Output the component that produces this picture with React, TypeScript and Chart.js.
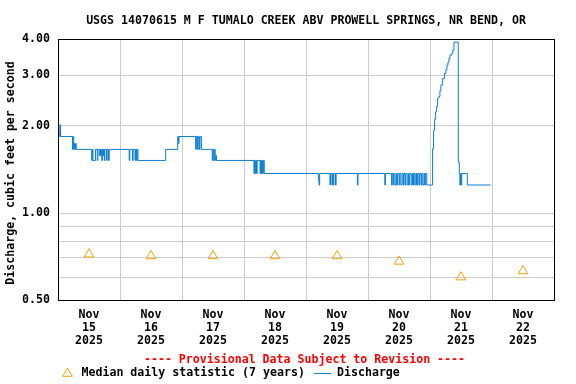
import React, { useEffect, useRef } from 'react';
import { Chart, registerables } from 'chart.js';

Chart.register(...registerables);

const FONT = '"DejaVu Sans Mono", "Liberation Mono", monospace';
const FS = 11.6;

const chartTitle = 'USGS 14070615 M F TUMALO CREEK ABV PROWELL SPRINGS, NR BEND, OR';
const yAxisTitle = 'Discharge, cubic feet per second ';
const provisionalText = '---- Provisional Data Subject to Revision ----';
const medianLabel = 'Median daily statistic (7 years)';
const dischargeLabel = 'Discharge';

const dayMonth = 'Nov';
const dayNumbers = ['15', '16', '17', '18', '19', '20', '21', '22'];
const dayYear = '2025';

const yTickValues = [0.5, 0.6, 0.7, 0.8, 0.9, 1, 2, 3, 4];
const yTickLabels = ['0.50', '', '', '', '', '1.00', '2.00', '3.00', '4.00'];

// hours since Nov 15 2025 00:00 (daily medians plotted at noon)
const medianHours = [12, 36, 60, 84, 108, 132, 156, 180];
const medianCfs = [0.72, 0.71, 0.71, 0.71, 0.71, 0.68, 0.6, 0.63];

// hours since Nov 15 2025 00:00 at which each reading begins
const dischargeHours = [
  0, 0.39, 0.73, 0.97, 5.6, 5.84, 6.09, 6.33, 6.57, 6.82, 7.06,
  13.05, 13.29, 13.54, 14.51, 15.19, 15.44, 15.97, 16.21, 16.46, 16.7, 16.94, 17.19, 17.43, 17.67, 17.92, 18.16, 18.8, 19.04, 19.57, 19.82,
  27.56, 27.8, 28.83, 29.07, 29.8, 30.04, 30.38, 30.63, 30.97,
  41.68, 46.35, 46.6, 46.84,
  53.27, 53.56, 54.05, 54.29, 54.73, 54.97, 55.51,
  59.7, 59.94, 60.28, 60.52, 60.86, 61.11, 61.35,
  75.86, 76.1, 76.35, 76.59, 76.84, 77.08, 78.2, 78.44, 78.78, 79.03, 79.27, 79.51, 79.85,
  100.79, 101.03, 101.28, 105.27, 105.51, 106.05, 106.29, 106.54, 106.78, 107.41, 107.66,
  115.89, 116.13, 126.5, 126.74,
  129.13, 129.37, 129.81, 130.06, 130.49, 130.98, 131.22, 131.47, 132.05, 132.29, 132.73, 133.22, 133.71, 133.95, 134.39, 134.63,
  135.17, 135.65, 135.9, 136.14, 136.73, 137.21, 137.6, 137.85, 138.29, 138.77, 139.01, 139.26, 139.74, 139.99, 140.52, 140.77,
  141.21, 141.69, 141.98, 142.23, 142.76,
  145.0, 145.39, 145.78, 146.17, 146.56, 146.95, 147.44, 147.83, 148.22, 148.9, 149.58, 150.17, 150.56, 150.95, 151.33, 151.72,
  152.41, 152.8, 153.28,
  154.94, 155.33, 155.57, 155.81, 156.06, 156.3, 158.44, 167.5,
];
const dischargeCfs = [
  1.92, 1.84, 2.02, 1.84, 1.66, 1.84, 1.66, 1.74, 1.66, 1.74, 1.66,
  1.52, 1.66, 1.52, 1.66, 1.52, 1.66, 1.58, 1.66, 1.58, 1.66, 1.52, 1.66, 1.58, 1.66, 1.52, 1.66, 1.52, 1.66, 1.52, 1.66,
  1.52, 1.66, 1.52, 1.66, 1.52, 1.66, 1.52, 1.66, 1.52,
  1.66, 1.84, 1.74, 1.84,
  1.66, 1.84, 1.66, 1.84, 1.66, 1.84, 1.66,
  1.52, 1.66, 1.52, 1.66, 1.52, 1.58, 1.52,
  1.37, 1.52, 1.37, 1.52, 1.37, 1.52, 1.37, 1.52, 1.37, 1.52, 1.37, 1.52, 1.37,
  1.3, 1.25, 1.37, 1.25, 1.37, 1.25, 1.37, 1.25, 1.37, 1.25, 1.37,
  1.25, 1.37, 1.25, 1.37,
  1.25, 1.37, 1.25, 1.37, 1.25, 1.37, 1.25, 1.37, 1.25, 1.37, 1.25, 1.37, 1.25, 1.37, 1.25, 1.37,
  1.25, 1.37, 1.25, 1.37, 1.25, 1.37, 1.25, 1.37, 1.25, 1.37, 1.25, 1.37, 1.25, 1.37, 1.25, 1.37,
  1.25, 1.37, 1.25, 1.37, 1.25,
  1.67, 1.93, 2.11, 2.24, 2.33, 2.5, 2.53, 2.65, 2.77, 2.92, 3.04, 3.14, 3.25, 3.33, 3.43, 3.52,
  3.57, 3.66, 3.9,
  1.5, 1.37, 1.25, 1.37, 1.25, 1.37, 1.25, 1.25,
];

const xMin = 0;
const xMax = 192;

const GRID = '#cccccc';
const LINE_BLUE = '#0a7dd2';
const ORANGE = '#f9a000';

export default function App() {
  const ref = useRef<HTMLCanvasElement>(null);

  useEffect(() => {
    const canvas = ref.current;
    if (!canvas) return;

    const decor = {
      id: 'usgsDecor',
      afterDatasetsDraw(chart: any) {
        const { ctx, chartArea: a } = chart;
        ctx.save();
        ctx.strokeStyle = '#000';
        ctx.lineWidth = 1;
        ctx.strokeRect(a.left + 0.5, a.top + 0.5, a.right - a.left, a.bottom - a.top);
        ctx.restore();
      },
      afterDraw(chart: any) {
        const { ctx, chartArea: a } = chart;
        ctx.save();
        ctx.font = `bold ${FS}px ${FONT}`;
        ctx.textBaseline = 'middle';
        ctx.textAlign = 'center';
        ctx.fillStyle = '#000';
        ctx.fillText(chartTitle, (a.left + a.right) / 2, 21);
        ctx.fillStyle = '#ff0000';
        ctx.fillText(provisionalText, 304.5, 360);

        const ly = 373;
        // legend triangle
        const tx = 67.5;
        const r = 5.5;
        ctx.beginPath();
        for (let k = 0; k < 3; k++) {
          const ang = (k * 2 * Math.PI) / 3;
          const px = tx + Math.sin(ang) * r;
          const py = ly + 0.5 - Math.cos(ang) * r;
          if (k === 0) ctx.moveTo(px, py);
          else ctx.lineTo(px, py);
        }
        ctx.closePath();
        ctx.strokeStyle = ORANGE;
        ctx.lineWidth = 1;
        ctx.stroke();

        ctx.textAlign = 'left';
        ctx.fillStyle = '#000';
        const mx = 81.5;
        ctx.fillText(medianLabel, mx, ly);
        const w = ctx.measureText(medianLabel).width;
        const l0 = Math.round(mx + w + 9);
        ctx.beginPath();
        ctx.moveTo(l0, Math.floor(ly) + 0.5);
        ctx.lineTo(l0 + 17, Math.floor(ly) + 0.5);
        ctx.strokeStyle = LINE_BLUE;
        ctx.stroke();
        ctx.fillText(dischargeLabel, l0 + 23, ly);
        ctx.restore();
      },
    };

    const chart = new Chart(canvas, {
      type: 'line',
      data: {
        datasets: [
          {
            label: dischargeLabel,
            data: dischargeHours.map((h, i) => ({ x: h, y: dischargeCfs[i] })),
            borderColor: LINE_BLUE,
            borderWidth: 1,
            pointRadius: 0,
            stepped: true,
            fill: false,
          },
          {
            label: medianLabel,
            data: medianHours.map((h, i) => ({ x: h, y: medianCfs[i] })),
            showLine: false,
            pointStyle: 'triangle',
            pointRadius: 5.5,
            pointBorderColor: ORANGE,
            pointBackgroundColor: 'rgba(0,0,0,0)',
            pointBorderWidth: 1,
            borderColor: ORANGE,
          },
        ],
      },
      options: {
        responsive: false,
        animation: false,
        devicePixelRatio: 1,
        layout: { padding: { top: 39, right: 22, bottom: 34, left: 0 } },
        plugins: {
          legend: { display: false },
          title: { display: false },
          tooltip: { enabled: false },
        },
        scales: {
          x: {
            type: 'linear',
            min: xMin,
            max: xMax,
            border: { display: false },
            grid: {
              drawTicks: false,
              color: (c: any) => (c.tick && c.tick.value % 24 === 0 ? GRID : 'rgba(0,0,0,0)'),
              lineWidth: 1,
            },
            ticks: {
              autoSkip: false,
              maxRotation: 0,
              minRotation: 0,
              padding: 8,
              color: '#000',
              font: { family: FONT, size: FS, weight: 'bold', lineHeight: '13.3px' },
              callback: (_v: any, i: number) => {
                if (i % 2 === 1) {
                  const k = (i - 1) / 2;
                  return [dayMonth, dayNumbers[k], dayYear];
                }
                return '';
              },
            },
            afterBuildTicks: (scale: any) => {
              const t = [];
              for (let v = xMin; v <= xMax; v += 12) t.push({ value: v });
              scale.ticks = t;
            },
            afterFit: (scale: any) => {
              scale.height = 50;
              scale.paddingLeft = 0;
              scale.paddingRight = 0;
              scale.paddingTop = 0;
              scale.paddingBottom = 0;
            },
          },
          y: {
            type: 'logarithmic',
            min: 0.5,
            max: 4,
            border: { display: false },
            grid: { drawTicks: false, color: GRID, lineWidth: 1 },
            title: {
              display: true,
              text: yAxisTitle,
              color: '#000',
              font: { family: FONT, size: FS, weight: 'bold' },
              padding: { top: 4, bottom: 0 },
            },
            ticks: {
              autoSkip: false,
              padding: 8,
              color: '#000',
              font: { family: FONT, size: FS, weight: 'bold' },
              callback: (_v: any, i: number) => yTickLabels[i] ?? '',
            },
            afterBuildTicks: (scale: any) => {
              scale.ticks = yTickValues.map((v) => ({ value: v }));
            },
            afterFit: (scale: any) => {
              scale.width = 58;
              scale.paddingLeft = 0;
              scale.paddingRight = 0;
              scale.paddingTop = 0;
              scale.paddingBottom = 0;
            },
          },
        },
      },
      plugins: [decor],
    } as any);

    return () => {
      chart.destroy();
    };
  }, []);

  return (
    <div style={{ position: 'absolute', left: 0, top: 0, width: 576, height: 384, background: '#fff' }}>
      <canvas ref={ref} width={576} height={384} style={{ display: 'block', width: 576, height: 384 }} />
    </div>
  );
}
